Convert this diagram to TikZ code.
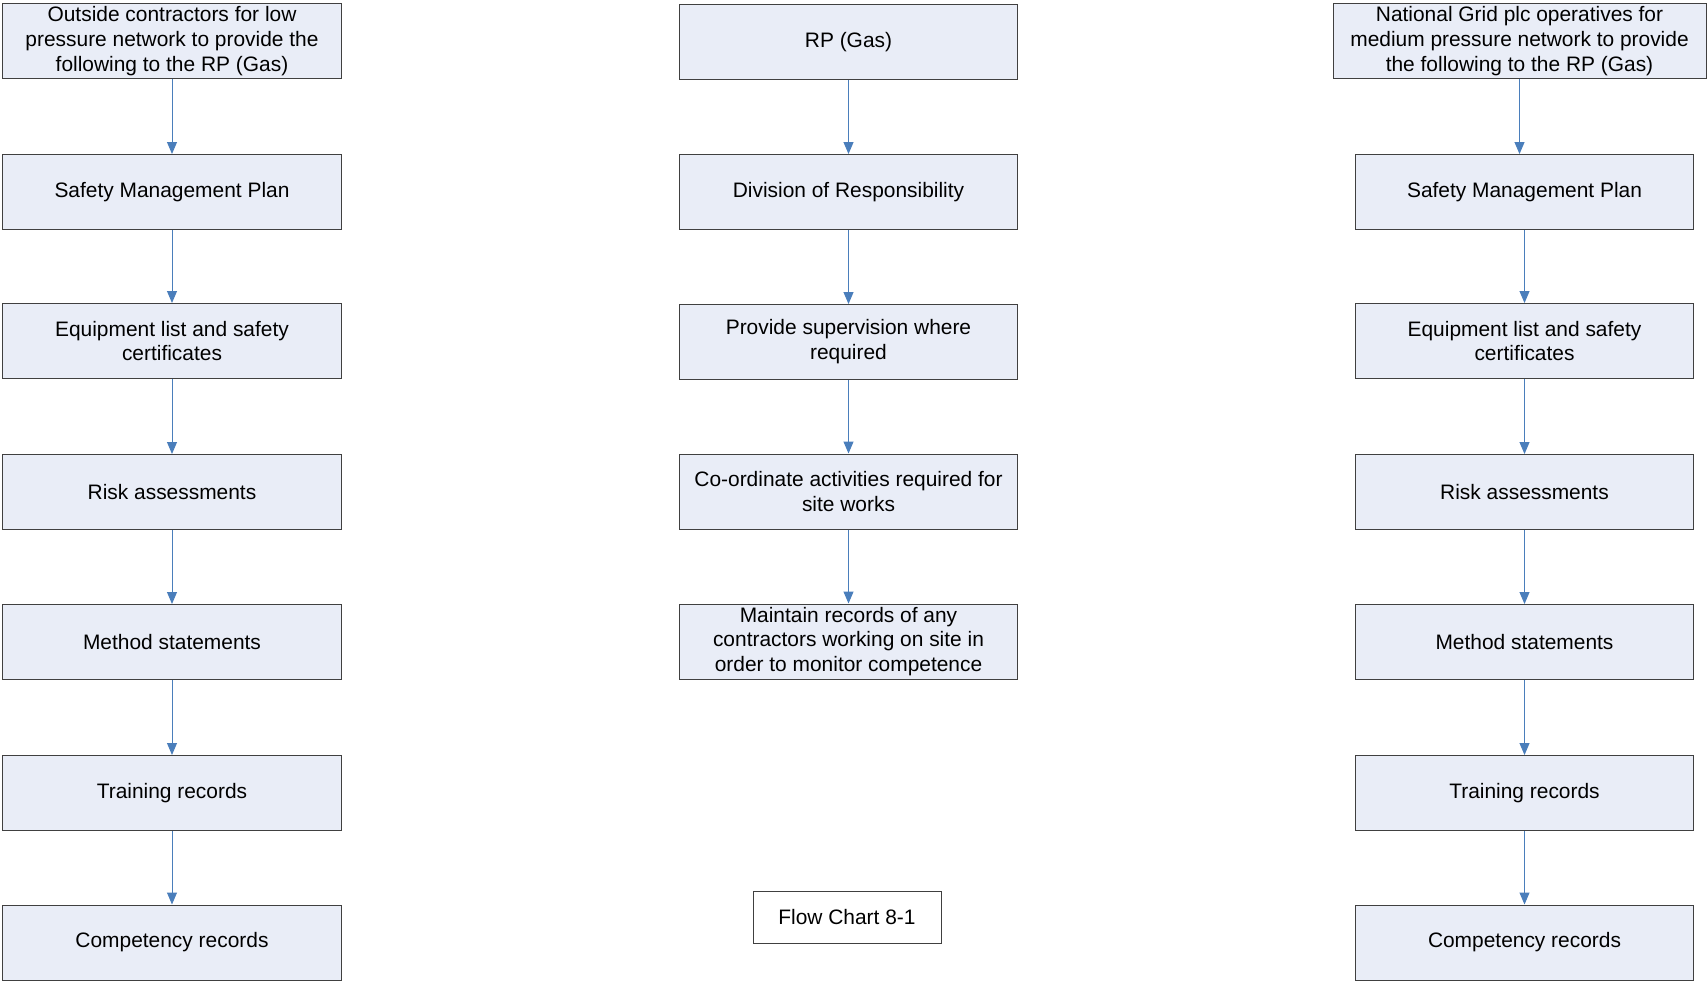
\documentclass[tikz,border=0pt]{standalone}
\usepackage{fontspec}
\setmainfont{Liberation Sans}
\usetikzlibrary{arrows.meta}
\definecolor{boxfill}{HTML}{E9EDF7}
\definecolor{boxline}{HTML}{404040}
\definecolor{arrowblue}{HTML}{4A7EBB}
\begin{document}
\begin{tikzpicture}[x=1bp,y=-1bp,>={Triangle[length=12bp,width=10bp]},
  box/.style={draw=boxline,fill=boxfill,line width=1bp,minimum width=338bp,minimum height=75bp,inner sep=0pt,align=center,font=\fontsize{21}{25}\selectfont},
  flow/.style={->,draw=arrowblue,line width=1bp,arrowblue}]
\useasboundingbox (0,0) rectangle (1707,980);

% left column
\node[box] (ltop) at (172,41) {Outside contractors for low\\pressure network to provide the\\following to the RP (Gas)};
\node[box] (lsmp) at (172,192) {Safety Management Plan};
\node[box] (lequip) at (172,341) {Equipment list and safety\\certificates};
\node[box] (lrisk) at (172,492) {Risk assessments};
\node[box] (lmethod) at (172,642) {Method statements};
\node[box] (ltrain) at (172,793) {Training records};
\node[box] (lcomp) at (172,942.5) {Competency records};

% middle column
\node[box] (mtop) at (848.5,42) {RP (Gas)};
\node[box] (mdiv) at (848.5,192) {Division of Responsibility};
\node[box] (msup) at (848.5,342) {Provide supervision where\\required};
\node[box] (mcoord) at (848.5,491.5) {Co-ordinate activities required for\\site works};
\node[box] (mrec) at (848.5,641.5) {Maintain records of any\\contractors working on site in\\order to monitor competence};

\node[draw=boxline,fill=white,line width=1bp,minimum width=188bp,minimum height=52bp,font=\fontsize{21}{25}\selectfont] (chart) at (847,917) {Flow Chart 8-1};

% right column
\node[box,minimum width=373bp] (rtop) at (1519.5,41) {National Grid plc operatives for\\medium pressure network to provide\\the following to the RP (Gas)};
\node[box] (rsmp) at (1524.5,192) {Safety Management Plan};
\node[box] (requip) at (1524.5,341) {Equipment list and safety\\certificates};
\node[box] (rrisk) at (1524.5,492) {Risk assessments};
\node[box] (rmethod) at (1524.5,642) {Method statements};
\node[box] (rtrain) at (1524.5,793) {Training records};
\node[box] (rcomp) at (1524.5,942.5) {Competency records};

\draw[flow] (ltop) -- (lsmp);
\draw[flow] (lsmp) -- (lequip);
\draw[flow] (lequip) -- (lrisk);
\draw[flow] (lrisk) -- (lmethod);
\draw[flow] (lmethod) -- (ltrain);
\draw[flow] (ltrain) -- (lcomp);

\draw[flow] (mtop) -- (mdiv);
\draw[flow] (mdiv) -- (msup);
\draw[flow] (msup) -- (mcoord);
\draw[flow] (mcoord) -- (mrec);

\draw[flow] (rtop.south) -- (rtop.south |- rsmp.north);
\draw[flow] (rsmp) -- (requip);
\draw[flow] (requip) -- (rrisk);
\draw[flow] (rrisk) -- (rmethod);
\draw[flow] (rmethod) -- (rtrain);
\draw[flow] (rtrain) -- (rcomp);
\end{tikzpicture}
\end{document}
